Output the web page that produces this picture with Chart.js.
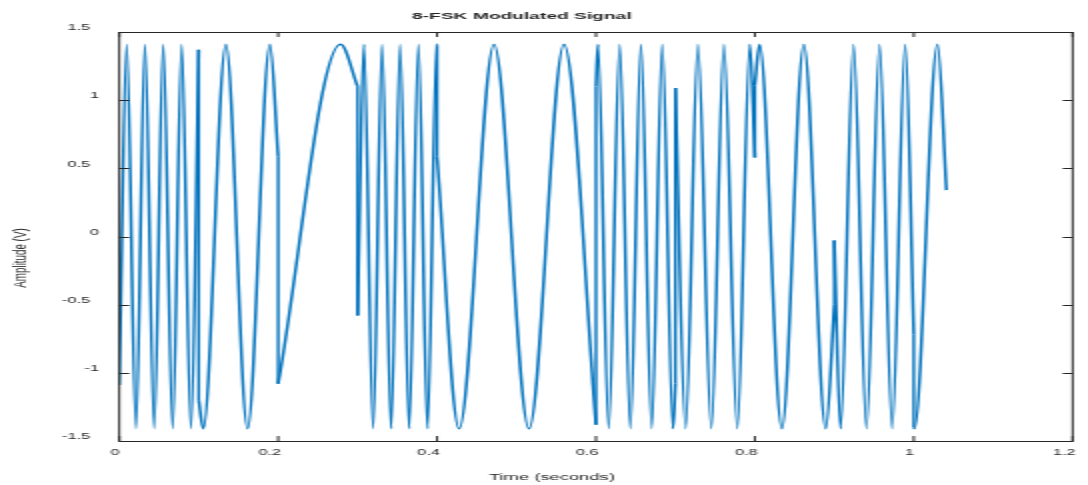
<!DOCTYPE html>
<html><head><meta charset="utf-8">
<script src="https://cdn.jsdelivr.net/npm/chart.js@4.4.0/dist/chart.umd.min.js"></script>
<style>
html,body{margin:0;padding:0;background:#fff;overflow:hidden;}
#wrap{width:1088px;height:485px;position:relative;overflow:hidden;background:#fff;}
#c{position:absolute;left:0;top:0;transform-origin:0 0;transform:scaleX(2);}
</style></head><body>
<div id="wrap"><canvas id="c" width="544" height="485" style="width:544px;height:485px"></canvas></div>
<script>
// ---- data: turning points and symbol-boundary values [time s, amplitude V]
const seg1 = [[0,-1.09],[0.0093,1.41],[0.0210,-1.41],[0.0323,1.41],[0.0440,-1.41],[0.0553,1.41],[0.0672,-1.41],[0.0785,1.41],[0.0902,-1.41],[0.1,1.37]];
const seg2 = [[0.1,-1.2],[0.1057,-1.41],[0.1342,1.41],[0.1615,-1.41],[0.1896,1.41],[0.2,0.585]];
const seg3 = [[0.2,-1.08],[0.2785,1.41],[0.3,1.10]];
const seg4 = [[0.3,-0.58],[0.3079,1.41],[0.3195,-1.41],[0.3308,1.41],[0.3421,-1.41],[0.3535,1.41],[0.3648,-1.41],[0.3766,1.41],[0.3879,-1.41],[0.3996,1.41],[0.4,1.40]];
const seg5 = [[0.4,0.585],[0.4277,-1.41],[0.4717,1.41],[0.5157,-1.41],[0.5597,1.41],[0.6,-1.38]];
const seg6 = [[0.6,1.1],[0.6025,1.41],[0.6160,-1.41],[0.6298,1.41],[0.6433,-1.41],[0.6566,1.41],[0.6701,-1.41],[0.6835,1.41],[0.6969,-1.41],[0.7,-1.08]];
const seg7 = [[0.7,1.09],[0.7128,-1.41],[0.7283,1.41],[0.7452,-1.41],[0.7610,1.41],[0.7779,-1.41],[0.7937,1.41],[0.8,0.58]];
const seg8 = [[0.8,1.11],[0.8059,1.41],[0.8340,-1.41],[0.8616,1.41],[0.8893,-1.41],[0.9,-0.5]];
const seg9 = [[0.9,-0.03],[0.9078,-1.41],[0.9242,1.41],[0.9405,-1.41],[0.9569,1.41],[0.9728,-1.41],[0.9892,1.41],[1.0,-0.72]];
const seg10 = [[1.0,-1.40],[1.0008,-1.41],[1.0298,1.41],[1.0411,0.34]];

const xTicks = [0,0.2,0.4,0.6,0.8,1,1.2];
const xTickLabels = ['0','0.2','0.4','0.6','0.8','1','1.2'];
const yTicks = [-1.5,-1,-0.5,0,0.5,1,1.5];
const yTickLabels = ['-1.5','-1','-0.5','0','0.5','1','1.5'];

const titleText = '8-FSK Modulated Signal';
const xTitle = 'Time (seconds)';
const yTitle = 'Amplitude (V)';

// ---- build datasets
const segments = [seg1,seg2,seg3,seg4,seg5,seg6,seg7,seg8,seg9,seg10];
const signalPts = [];
const jumpPts = [];
segments.forEach((s,i)=>{
  s.forEach(p=>signalPts.push({x:p[0],y:p[1]}));
  if(i<segments.length-1){
    const last = s[s.length-1], next = segments[i+1][0];
    signalPts.push({x:last[0],y:null});
    jumpPts.push({x:last[0],y:last[1]},{x:next[0],y:next[1]},{x:next[0],y:null});
  }
});

const LINE = '#0072BD';
const AX = '#262626';
const FONT = '"Liberation Sans", Arial, Helvetica, sans-serif';
// decimal tick labels in the reference sit slightly off (trailing figure-width gap)
const fmt = l => l.indexOf('.')>=0 ? l+'  ' : l;

const frame = {
  id:'frame',
  afterDatasetsDraw(chart){
    const {ctx, chartArea:a, scales:{x,y}} = chart;
    ctx.save();
    ctx.strokeStyle = AX; ctx.lineWidth = 1;
    ctx.strokeRect(a.left, a.top+0.5, a.right-a.left, a.bottom-a.top);
    const L = 5;
    ctx.beginPath();
    xTicks.forEach(v=>{const px=x.getPixelForValue(v);
      ctx.moveTo(px,a.bottom); ctx.lineTo(px,a.bottom-L);
      ctx.moveTo(px,a.top); ctx.lineTo(px,a.top+L);});
    yTicks.forEach(v=>{const py=Math.round(y.getPixelForValue(v))+0.5;
      ctx.moveTo(a.left,py); ctx.lineTo(a.left+L,py);
      ctx.moveTo(a.right,py); ctx.lineTo(a.right-L,py);});
    ctx.stroke();
    // titles
    ctx.fillStyle = AX; ctx.textAlign='center'; ctx.textBaseline='middle';
    ctx.font = 'bold 9.6px '+FONT;
    ctx.fillText(titleText, 260.9, 16);
    ctx.font = '9.2px '+FONT;
    ctx.fillText(xTitle, 276, 477);
    ctx.translate(10.5, 258); ctx.rotate(-Math.PI/2);
    ctx.font = '9.8px '+FONT;
    ctx.fillText(yTitle, 0, 0);
    ctx.restore();
  }
};

new Chart(document.getElementById('c'), {
  type:'line',
  data:{datasets:[
    {data:signalPts, borderColor:LINE, borderWidth:1.5, pointRadius:0, cubicInterpolationMode:'monotone', spanGaps:false, fill:false},
    {data:jumpPts, borderColor:LINE, borderWidth:1.4, pointRadius:0, tension:0, spanGaps:false, fill:false}
  ]},
  options:{
    responsive:false, animation:false, devicePixelRatio:1,
    layout:{padding:{left:0,right:7.65,top:32,bottom:0}},
    plugins:{legend:{display:false}, tooltip:{enabled:false}, title:{display:false}},
    scales:{
      x:{type:'linear', min:0, max:1.2,
        afterBuildTicks:s=>{s.ticks = xTicks.map(v=>({value:v}));},
        afterFit:s=>{s.height=44; s.paddingLeft=0; s.paddingRight=0;},
        grid:{display:false, drawTicks:false}, border:{display:false},
        ticks:{autoSkip:false, maxRotation:0, padding:7, labelOffset:-2, color:AX, font:{family:FONT,size:8.2},
          callback:(v,i)=>fmt(xTickLabels[i])}},
      y:{type:'linear', min:-1.5, max:1.5,
        afterBuildTicks:s=>{s.ticks = yTicks.map(v=>({value:v}));},
        afterFit:s=>{s.width=59.65; s.paddingTop=0; s.paddingBottom=0;},
        grid:{display:false, drawTicks:false}, border:{display:false},
        ticks:{autoSkip:false, padding:10, labelOffset:-4, color:AX, font:{family:FONT,size:8.2},
          callback:(v,i)=>fmt(yTickLabels[i])}}
    }
  },
  plugins:[frame]
});
</script></body></html>
